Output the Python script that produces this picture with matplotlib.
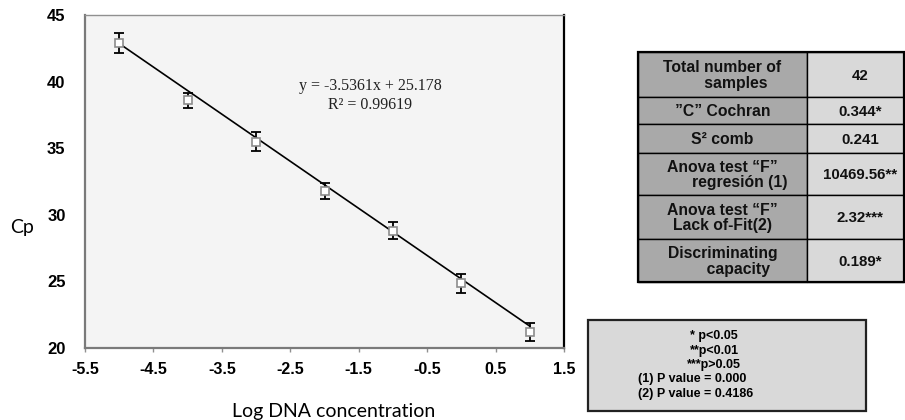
import matplotlib
matplotlib.use("Agg")
import matplotlib.pyplot as plt
import numpy as np
from matplotlib.patches import Rectangle

plt.rcParams['axes.unicode_minus'] = False

# ------------------------------------------------------
# data
# ------------------------------------------------------
log_conc = [-5, -4, -3, -2, -1, 0, 1]
cp_mean = [42.9, 38.6, 35.5, 31.8, 28.8, 24.85, 21.2]
cp_err = [0.75, 0.55, 0.7, 0.6, 0.65, 0.7, 0.65]

slope = -3.5361
intercept = 25.178
r2 = 0.99619

x_ticks = [-5.5, -4.5, -3.5, -2.5, -1.5, -0.5, 0.5, 1.5]
y_ticks = [20, 25, 30, 35, 40, 45]

table_labels = ["Total number of\n      samples", "\u201dC\u201d Cochran", "S\u00b2 comb",
                "Anova test \u201cF\u201d\n        regresi\u00f3n (1)",
                "Anova test \u201cF\u201d\nLack of-Fit(2)",
                "Discriminating\n       capacity"]
table_values = ["42", "0.344*", "0.241", "10469.56**", "2.32***", "0.189*"]

notes_center = ["* p<0.05", "**p<0.01", "***p>0.05"]
notes_left = ["(1) P value = 0.000", "(2) P value = 0.4186"]

W, H = 905, 420
fig = plt.figure(figsize=(W / 100, H / 100), dpi=100)

# ------------------------------------------------------
# scatter with error bars + trend line
# ------------------------------------------------------
ax = fig.add_axes([85 / W, (H - 348) / H, 479 / W, 333 / H])
ax.set_facecolor("#f4f4f4")

xs = np.array([log_conc[0], log_conc[-1]])
ax.plot(xs, slope * xs + intercept, color="black", lw=1.2, zorder=2)

ax.errorbar(log_conc, cp_mean, yerr=cp_err, fmt="none", ecolor="black",
            elinewidth=1.3, capsize=3.4, capthick=1.3, zorder=3)
ax.plot(log_conc, cp_mean, ls="none", marker="s", ms=5.5, mfc="white",
        mec="#8c8c8c", mew=1.2, zorder=4)

ax.set_xlim(-5.5, 1.5)
ax.set_ylim(20, 45)
ax.set_xticks(x_ticks)
ax.set_yticks(y_ticks)
ax.set_xticklabels([f"{t:g}" for t in x_ticks], fontweight="bold",
                   family="Liberation Sans", fontsize=11.5)
ax.set_yticklabels([str(t) for t in y_ticks], fontweight="bold",
                   family="Liberation Sans", fontsize=12)
ax.tick_params(axis="x", length=3, width=1, color="#909090", pad=7)
ax.tick_params(axis="y", length=0, pad=14)

for side in ["left", "bottom"]:
    ax.spines[side].set_color("#7a7a7a")
    ax.spines[side].set_linewidth(1.6)
ax.spines["top"].set_color("#909090")
ax.spines["top"].set_linewidth(1.0)
ax.spines["right"].set_color("black")
ax.spines["right"].set_linewidth(1.6)

ax.text(0.596, 0.758, f"y = {slope}x + {intercept}\nR\u00b2 = {r2}",
        transform=ax.transAxes, ha="center", va="center",
        family="Liberation Serif", fontsize=11.5, linespacing=1.2,
        color="#222222")

fig.text(22 / W, 1 - 228 / H, "Cp", family="Lato", fontsize=14,
         ha="center", va="center")
fig.text(334 / W, 1 - 411 / H, "Log DNA concentration", family="Lato",
         fontsize=14, ha="center", va="center")

# ------------------------------------------------------
# statistics table and footnote box (pixel overlay)
# ------------------------------------------------------
ov = fig.add_axes([0, 0, 1, 1], facecolor="none")
ov.set_xlim(0, W)
ov.set_ylim(H, 0)
ov.axis("off")

row_edges = [52, 97, 124, 153, 195, 239, 282]
x0, xm, x1 = 638, 807, 904

for i, (lab, val) in enumerate(zip(table_labels, table_values)):
    top, bot = row_edges[i], row_edges[i + 1]
    ov.add_patch(Rectangle((x0, top), xm - x0, bot - top, fc="#a9a9a9",
                           ec="black", lw=1.0))
    ov.add_patch(Rectangle((xm, top), x1 - xm, bot - top, fc="#d9d9d9",
                           ec="black", lw=1.0))
    cy = (top + bot) / 2 + 1
    ov.text((x0 + xm) / 2, cy, lab, ha="center", va="center",
            multialignment="center", family="Liberation Sans",
            fontweight="bold", fontsize=11.3, linespacing=1.05, color="#111111")
    ov.text(860, cy, val, ha="center", va="center",
            family="Liberation Sans", fontweight="bold", fontsize=10.8,
            color="#111111")
ov.add_patch(Rectangle((x0, row_edges[0]), x1 - x0, row_edges[-1] - row_edges[0],
                       fc="none", ec="black", lw=1.6))

ov.add_patch(Rectangle((588, 320), 278, 91, fc="#d9d9d9", ec="#222222", lw=1.6))
line_y = [336, 351, 365, 379, 394]
for k, s in enumerate(notes_center):
    ov.text(714, line_y[k], s, ha="center", va="center",
            family="Liberation Sans", fontweight="bold", fontsize=9)
for k, s in enumerate(notes_left):
    ov.text(638, line_y[3 + k], s, ha="left", va="center",
            family="Liberation Sans", fontweight="bold", fontsize=9)

fig.savefig("out.png", dpi=100)
